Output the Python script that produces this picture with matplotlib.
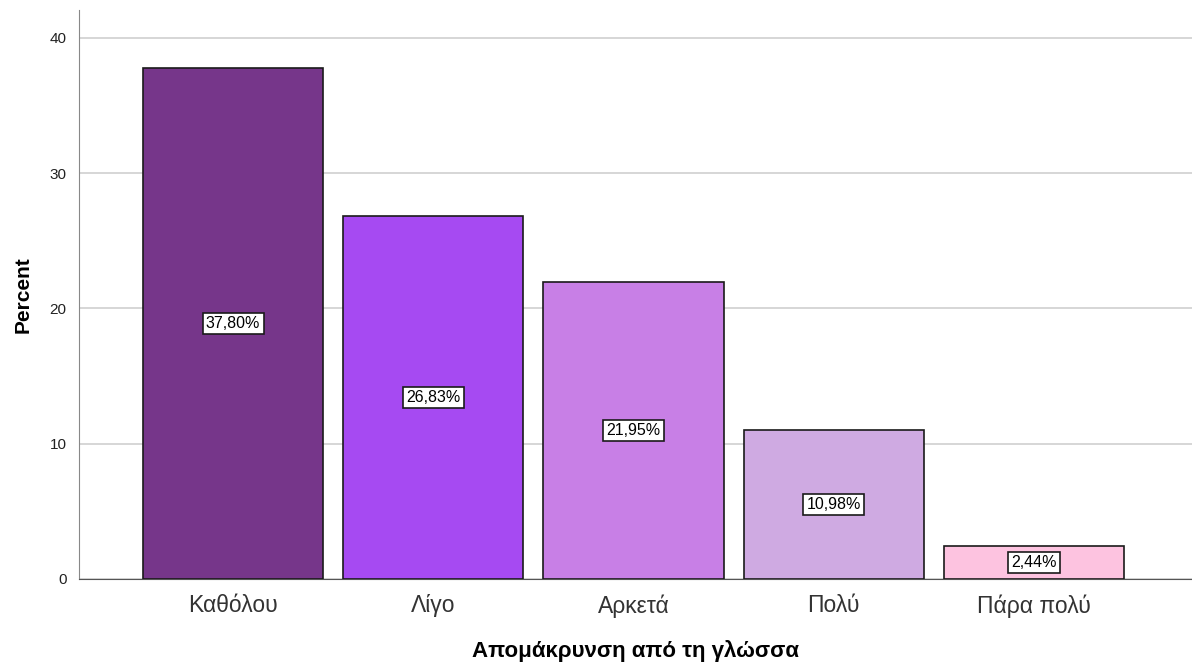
import numpy as np
import matplotlib.pyplot as plt

plt.rcParams['font.family'] = ['Liberation Sans', 'DejaVu Sans']

categories = ['Καθόλου', 'Λίγο', 'Αρκετά', 'Πολύ', 'Πάρα πολύ']
percent = [37.80, 26.83, 21.95, 10.98, 2.44]
colors = ['#76368A', '#A64AF2', '#C87FE6', '#CFAAE2', '#FDC3E0']

fig = plt.figure(figsize=(11.92, 6.62), dpi=100)
ax = fig.add_axes([79/1192, 1 - 579/662, 1 - 79/1192, (579 - 10)/662])

x = np.arange(len(categories))
ax.bar(x, percent, width=0.9, color=colors, edgecolor='#1a1a1a', linewidth=1.2, zorder=3)

# value labels in boxes at half height
for xi, v in zip(x, percent):
    ax.text(xi, v / 2, f'{v:.2f}%'.replace('.', ','), ha='center', va='center',
            fontsize=11.5, zorder=4,
            bbox=dict(boxstyle='square,pad=0.2', facecolor='white', edgecolor='#1a1a1a', linewidth=1.2))

ax.set_xlim(-0.77, 4.79)
ax.set_ylim(0, 42.07)
ax.set_yticks([0, 10, 20, 30, 40])
ax.yaxis.grid(True, color='#d0d0d0', linewidth=1.2, zorder=0)
ax.set_xticks(x)
ax.set_xticklabels(categories, fontsize=16.5, color='#333333')
ax.tick_params(axis='both', length=0)
ax.tick_params(axis='y', labelsize=11, pad=9, labelcolor='#222222')
ax.tick_params(axis='x', pad=11)

for s in ['top', 'right']:
    ax.spines[s].set_visible(False)
ax.spines['left'].set_color('#888888')
ax.spines['bottom'].set_color('#555555')

ax.set_ylabel('Percent', fontsize=15, fontweight='bold', labelpad=12)
ax.set_xlabel('Απομάκρυνση από τη γλώσσα', fontsize=16, fontweight='bold', labelpad=16)

fig.savefig('out.png', dpi=100)
